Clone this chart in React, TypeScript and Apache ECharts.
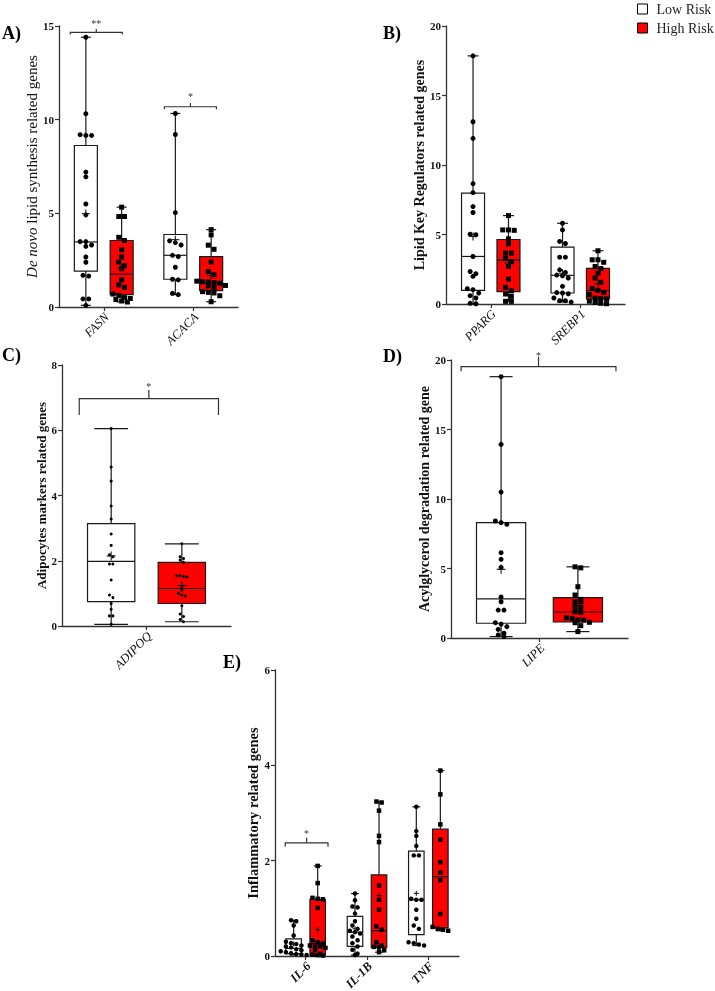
import React, { useEffect, useRef } from "react";
import * as echarts from "echarts";

const FONT = '"Liberation Serif", "Times New Roman", serif';

// ---------- Panel A : De novo lipid synthesis ----------
const catsA = ["FASN", "ACACA"];
const boxA_low = [
  [0.09, 1.92, 3.47, 8.62, 14.4],
  [0.66, 1.48, 2.76, 3.87, 10.33],
];
const boxA_high = [
  [0.27, 0.66, 1.75, 3.55, 5.33],
  [0.28, 0.87, 1.3, 2.69, 4.13],
];
const ptsA_low = [
  [14.4, 10.32, 9.16, 9.16, 9.2, 7.2, 6.95, 5.5, 4.92, 3.49, 3.49, 3.31, 3.24, 2.67, 2.39, 1.69, 1.65, 0.43, 0.43, 0.09],
  [10.33, 9.21, 5.04, 3.53, 3.44, 3.31, 2.76, 2.69, 2.12, 1.48, 1.45, 0.73, 0.66],
];
const ptsA_high = [
  [5.33, 4.83, 4.83, 3.72, 3.55, 3.05, 2.67, 2.39, 2.21, 2.05, 1.45, 1.18, 1.05, 0.69, 0.62, 0.5, 0.46, 0.4, 0.32, 0.27],
  [4.13, 3.85, 3.3, 3.08, 2.4, 1.89, 1.72, 1.38, 1.35, 1.33, 1.3, 1.27, 1.15, 1.12, 1.05, 0.82, 0.78, 0.75, 0.6, 0.28],
];
const sigA = ["**", "*"];

// ---------- Panel B : Lipid key regulators ----------
const catsB = ["PPARG", "SREBP1"];
const boxB_low = [
  [0.02, 0.98, 3.42, 7.97, 17.85],
  [0.14, 0.79, 2.06, 4.09, 5.81],
];
const boxB_high = [
  [0.19, 0.89, 3.16, 4.64, 6.36],
  [0.02, 0.36, 0.96, 2.56, 3.83],
];
const ptsB_low = [
  [17.85, 13.11, 11.91, 8.66, 8.01, 7.01, 6.58, 5.02, 4.98, 3.42, 2.34, 2.18, 1.99, 1.1, 1.03, 0.79, 0.6, 0.43, 0.05, 0.02],
  [5.81, 5.33, 4.5, 4.35, 3.37, 3.37, 2.46, 2.27, 2.08, 2.03, 1.87, 1.27, 0.82, 0.79, 0.74, 0.43, 0.24, 0.24, 0.14],
];
const ptsB_high = [
  [6.36, 5.33, 5.33, 5.3, 4.69, 4.33, 3.66, 3.66, 3.28, 3.04, 2.7, 1.79, 1.2, 0.95, 0.72, 0.55, 0.19, 0.19],
  [3.83, 3.18, 3.18, 3.0, 2.7, 2.55, 2.22, 1.87, 1.56, 1.12, 0.98, 0.84, 0.67, 0.43, 0.4, 0.36, 0.2, 0.12, 0.05, 0.02],
];

// ---------- Panel C : Adipocytes markers ----------
const catsC = ["ADIPOQ"];
const boxC_low = [[0.05, 0.75, 1.98, 3.14, 6.05]];
const boxC_high = [[0.13, 0.69, 1.15, 1.95, 2.52]];
const ptsC_low = [[6.05, 4.87, 4.44, 3.68, 3.28, 2.82, 2.47, 2.18, 2.12, 1.9, 1.9, 1.41, 0.95, 0.87, 0.69, 0.51, 0.31, 0.31, 0.05]];
const ptsC_high = [[2.52, 2.12, 2.07, 2.02, 1.95, 1.54, 1.54, 1.52, 1.5, 1.21, 1.1, 1.0, 0.95, 0.92, 0.62, 0.37, 0.29, 0.2, 0.13]];
const sigC = ["*"];

// ---------- Panel D : Acylglycerol degradation ----------
const catsD = ["LIPE"];
const boxD_low = [[0.1, 1.06, 2.81, 8.3, 18.8]];
const boxD_high = [[0.46, 1.15, 1.87, 2.9, 5.12]];
const ptsD_low = [[18.8, 13.93, 10.5, 8.42, 8.3, 8.18, 6.14, 5.66, 5.08, 2.95, 2.61, 2.01, 2.01, 1.1, 1.0, 0.82, 0.62, 0.34, 0.22, 0.1]];
const ptsD_high = [[5.12, 5.05, 3.69, 3.09, 2.78, 2.61, 2.6, 2.25, 2.2, 1.89, 1.85, 1.45, 1.41, 1.29, 1.29, 1.13, 1.1, 0.89, 0.46]];
const sigD = ["*"];

// ---------- Panel E : Inflammatory ----------
const catsE = ["IL-6", "IL-1B", "TNF"];
const boxE_low = [
  [0.02, 0.05, 0.16, 0.36, 0.75],
  [0.02, 0.2, 0.5, 0.83, 1.31],
  [0.22, 0.45, 1.18, 2.2, 3.13],
];
const boxE_high = [
  [0.01, 0.02, 0.26, 1.19, 1.89],
  [0.08, 0.18, 0.53, 1.7, 3.24],
  [0.53, 0.59, 1.66, 2.66, 3.89],
];
const ptsE_low = [
  [0.75, 0.73, 0.64, 0.43, 0.3, 0.27, 0.25, 0.22, 0.2, 0.18, 0.14, 0.12, 0.1, 0.08, 0.06, 0.04, 0.03, 0.02],
  [1.31, 1.17, 1.04, 1.02, 0.89, 0.73, 0.64, 0.57, 0.53, 0.5, 0.47, 0.41, 0.33, 0.27, 0.2, 0.13, 0.05, 0.02],
  [3.13, 2.62, 2.52, 2.31, 2.11, 2.11, 1.2, 1.18, 1.18, 0.97, 0.78, 0.64, 0.57, 0.29, 0.27, 0.24, 0.22],
];
const ptsE_high = [
  [1.89, 1.53, 1.22, 1.2, 1.19, 1.01, 0.33, 0.29, 0.26, 0.22, 0.2, 0.2, 0.17, 0.13, 0.05, 0.03, 0.02, 0.01],
  [3.24, 3.22, 3.05, 2.52, 2.39, 1.48, 1.18, 0.97, 0.62, 0.55, 0.29, 0.22, 0.19, 0.18, 0.12, 0.08],
  [3.89, 3.39, 2.76, 2.44, 1.97, 1.75, 1.59, 0.88, 0.61, 0.57, 0.55, 0.53],
];
const sigE = ["*"];

const legendNames = ["Low Risk", "High Risk"];

type Bracket = { cat: number; x1: number; x2: number; y: number; drop: number; top: number; star: number; label: string };
type Panel = {
  letter: string;
  letterPos: [number, number];
  grid: { left: number; top: number; width: number; height: number };
  cats: string[];
  lowBox: number[][];
  highBox: number[][];
  lowPts: number[][];
  highPts: number[][];
  yMax: number;
  yInt: number;
  offset: number;
  boxW: number;
  capW: number;
  ptSize: number;
  meanSize: number;
  highShape: "square" | "circle";
  name: string;
  nameGap: number;
  nameSize: number;
  nameBold: boolean;
  labelBold: boolean;
  brackets: Bracket[];
};

const panels: Panel[] = [
  {
    letter: "A)", letterPos: [2, 24],
    grid: { left: 59, top: 26, width: 179, height: 281 },
    cats: catsA, lowBox: boxA_low, highBox: boxA_high, lowPts: ptsA_low, highPts: ptsA_high,
    yMax: 15, yInt: 5,
    offset: 0.2, boxW: 0.257, capW: 0.112, ptSize: 5, meanSize: 8, highShape: "square",
    name: "{i|De novo} lipid synthesis related genes", nameGap: 16, nameSize: 15, nameBold: false, labelBold: false,
    brackets: [
      { cat: 0, x1: -0.374, x2: 0.207, y: 14.66, drop: 14.54, top: 14.84, star: 15.28, label: sigA[0] },
      { cat: 1, x1: -0.322, x2: 0.259, y: 10.69, drop: 10.56, top: 10.89, star: 11.37, label: sigA[1] },
    ],
  },
  {
    letter: "B)", letterPos: [383, 24],
    grid: { left: 446, top: 26, width: 179, height: 278 },
    cats: catsB, lowBox: boxB_low, highBox: boxB_high, lowPts: ptsB_low, highPts: ptsB_high,
    yMax: 20, yInt: 5,
    offset: 0.198, boxW: 0.257, capW: 0.123, ptSize: 5, meanSize: 8, highShape: "square",
    name: "Lipid Key Regulators related genes", nameGap: 16, nameSize: 14, nameBold: true, labelBold: false,
    brackets: [],
  },
  {
    letter: "C)", letterPos: [2, 346],
    grid: { left: 62, top: 365, width: 169, height: 261 },
    cats: catsC, lowBox: boxC_low, highBox: boxC_high, lowPts: ptsC_low, highPts: ptsC_high,
    yMax: 8, yInt: 2,
    offset: 0.209, boxW: 0.28, capW: 0.2, ptSize: 3, meanSize: 9, highShape: "circle",
    name: "Adipocytes markers related genes", nameGap: 9, nameSize: 13, nameBold: true, labelBold: false,
    brackets: [{ cat: 0, x1: -0.398, x2: 0.426, y: 6.97, drop: 6.47, top: 7.23, star: 7.42, label: sigC[0] }],
  },
  {
    letter: "D)", letterPos: [383, 347],
    grid: { left: 451, top: 360, width: 177, height: 278 },
    cats: catsD, lowBox: boxD_low, highBox: boxD_high, lowPts: ptsD_low, highPts: ptsD_high,
    yMax: 20, yInt: 5,
    offset: 0.217, boxW: 0.278, capW: 0.13, ptSize: 5, meanSize: 9, highShape: "square",
    name: "Acylglycerol degradation related gene", nameGap: 19, nameSize: 14, nameBold: true, labelBold: false,
    brackets: [{ cat: 0, x1: -0.443, x2: 0.432, y: 19.52, drop: 19.19, top: 20.24, star: 20.53, label: sigD[0] }],
  },
  {
    letter: "E)", letterPos: [223, 653],
    grid: { left: 275, top: 670, width: 184, height: 286 },
    cats: catsE, lowBox: boxE_low, highBox: boxE_high, lowPts: ptsE_low, highPts: ptsE_high,
    yMax: 6, yInt: 2,
    offset: 0.196, boxW: 0.253, capW: 0.13, ptSize: 4.5, meanSize: 5, highShape: "square",
    name: "Inflammatory related genes", nameGap: 12, nameSize: 14.5, nameBold: true, labelBold: true,
    brackets: [{ cat: 0, x1: -0.333, x2: 0.364, y: 2.374, drop: 2.29, top: 2.48, star: 2.625, label: sigE[0] }],
  },
];

const STROKE = "#1a1a1a";
const NP = panels.length;

function swarmX(cx: number, ys: number[], size: number): number[] {
  const order = ys.map((_, i) => i).sort((a, b) => ys[a] - ys[b]);
  const out: number[] = new Array(ys.length).fill(cx);
  let cluster: number[] = [];
  const flush = () => {
    const n = cluster.length;
    cluster.forEach((k, j) => {
      out[k] = cx + (j - (n - 1) / 2) * size * 1.15;
    });
    cluster = [];
  };
  for (const k of order) {
    if (cluster.length && ys[k] - ys[cluster[0]] > size * 0.9) flush();
    cluster.push(k);
  }
  flush();
  return out;
}

function boxSeries(p: Panel, pi: number, side: number) {
  const boxes = side < 0 ? p.lowBox : p.highBox;
  const pts = side < 0 ? p.lowPts : p.highPts;
  const fill = side < 0 ? "#ffffff" : "#ff0000";
  const shape = side < 0 ? "circle" : p.highShape;
  return {
    type: "custom",
    name: side < 0 ? legendNames[0] : legendNames[1],
    xAxisIndex: NP + pi,
    yAxisIndex: pi,
    clip: false,
    itemStyle: { color: fill },
    data: boxes.map((b, i) => [i, b[0], b[1], b[2], b[3], b[4]]),
    encode: { x: 0, y: [1, 2, 3, 4, 5] },
    renderItem: (params: any, api: any) => {
      const i = params.dataIndex;
      const cx = api.value(0) + side * p.offset;
      const mn = api.value(1), q1 = api.value(2), md = api.value(3), q3 = api.value(4), mx = api.value(5);
      const c = (x: number, y: number) => api.coord([x, y]);
      const lw = 1.2;
      const line = (a: number[], b: number[], w = lw) => ({
        type: "line",
        shape: { x1: a[0], y1: a[1], x2: b[0], y2: b[1] },
        style: { stroke: STROKE, lineWidth: w },
      });
      const children: any[] = [];
      children.push(line(c(cx, q3), c(cx, mx)));
      children.push(line(c(cx, q1), c(cx, mn)));
      children.push(line(c(cx - p.capW / 2, mx), c(cx + p.capW / 2, mx)));
      children.push(line(c(cx - p.capW / 2, mn), c(cx + p.capW / 2, mn)));
      const tl = c(cx - p.boxW / 2, q3);
      const br = c(cx + p.boxW / 2, q1);
      children.push({
        type: "rect",
        shape: { x: tl[0], y: tl[1], width: br[0] - tl[0], height: br[1] - tl[1] },
        style: { fill, stroke: STROKE, lineWidth: lw },
      });
      children.push(line(c(cx - p.boxW / 2, md), c(cx + p.boxW / 2, md)));
      const vals = pts[i];
      const center = c(cx, 0)[0];
      const ys = vals.map((v) => c(cx, v)[1]);
      const xs = swarmX(center, ys, p.ptSize);
      const s = p.ptSize;
      vals.forEach((_, k) => {
        if (shape === "square") {
          children.push({
            type: "rect",
            shape: { x: xs[k] - s / 2, y: ys[k] - s / 2, width: s, height: s },
            style: { fill: "#000" },
          });
        } else {
          children.push({
            type: "circle",
            shape: { cx: xs[k], cy: ys[k], r: s / 2 },
            style: { fill: "#000" },
          });
        }
      });
      const mean = vals.reduce((a, b) => a + b, 0) / vals.length;
      const m = c(cx, mean);
      const h = p.meanSize / 2;
      children.push(line([m[0] - h, m[1]], [m[0] + h, m[1]], 1.1));
      children.push(line([m[0], m[1] - h], [m[0], m[1] + h], 1.1));
      return { type: "group", children };
    },
  };
}

function bracketSeries(p: Panel, pi: number) {
  return {
    type: "custom",
    xAxisIndex: NP + pi,
    yAxisIndex: pi,
    clip: false,
    data: p.brackets.map((b) => [b.cat, b.y]),
    renderItem: (params: any, api: any) => {
      const b = p.brackets[params.dataIndex];
      const c = (x: number, y: number) => api.coord([x, y]);
      const x1 = b.cat + b.x1, x2 = b.cat + b.x2, xm = (x1 + x2) / 2;
      const poly = [c(x1, b.drop), c(x1, b.y), c(x2, b.y), c(x2, b.drop)];
      const mid = c(xm, b.y), midTop = c(xm, b.top), st = c(xm, b.star);
      return {
        type: "group",
        children: [
          { type: "polyline", shape: { points: poly }, style: { stroke: "#333", lineWidth: 1.2, fill: "none" } },
          { type: "line", shape: { x1: mid[0], y1: mid[1], x2: midTop[0], y2: midTop[1] }, style: { stroke: "#333", lineWidth: 1.2 } },
          {
            type: "text",
            style: { text: b.label, x: st[0], y: st[1] + 2.5, align: "center", verticalAlign: "middle", fill: "#333", font: `10px ${FONT}` },
          },
        ],
      };
    },
  };
}

// rotated (45°) italic category labels, placed at each category's position on the axis
function labelSeries(p: Panel, pi: number) {
  return {
    type: "custom",
    xAxisIndex: NP + pi,
    yAxisIndex: pi,
    clip: false,
    data: p.cats.map((_, i) => [i, 0]),
    renderItem: (params: any, api: any) => {
      const pt = api.coord([api.value(0), 0]);
      return {
        type: "text",
        x: pt[0] + 3,
        y: pt[1] + 8,
        rotation: Math.PI / 4,
        style: {
          text: p.cats[params.dataIndex],
          fill: "#111",
          font: `italic ${p.labelBold ? "bold " : ""}12.5px ${FONT}`,
          align: "right",
          verticalAlign: "middle",
        },
      };
    },
  };
}

export default function App() {
  const ref = useRef<HTMLDivElement>(null);
  useEffect(() => {
    if (!ref.current) return;
    const chart = echarts.init(ref.current, undefined, { renderer: "svg" });
    const grid = panels.map((p) => ({ ...p.grid }));
    const catAxes = panels.map((p, pi) => ({
      type: "category",
      gridIndex: pi,
      data: p.cats,
      boundaryGap: true,
      splitLine: { show: false },
      axisLine: { show: true, onZero: false, lineStyle: { color: "#333", width: 1.3 } },
      axisTick: { show: true, length: 4, alignWithLabel: true, lineStyle: { color: "#333", width: 1.2 } },
      axisLabel: { show: false },
    }));
    const valAxes = panels.map((p, pi) => ({
      type: "value",
      gridIndex: pi,
      min: -0.5,
      max: p.cats.length - 0.5,
      show: false,
    }));
    const yAxis = panels.map((p, pi) => ({
      type: "value",
      gridIndex: pi,
      min: 0,
      max: p.yMax,
      interval: p.yInt,
      splitLine: { show: false },
      axisLine: { show: true, onZero: false, lineStyle: { color: "#333", width: 1.3 } },
      axisTick: { show: true, length: 4, lineStyle: { color: "#333", width: 1.2 } },
      axisLabel: { margin: 5, fontFamily: FONT, fontWeight: "bold", fontSize: 11, color: "#111" },
      name: p.name,
      nameLocation: "middle",
      nameGap: p.nameGap,
      nameTextStyle: {
        fontFamily: FONT,
        fontSize: p.nameSize,
        fontWeight: p.nameBold ? "bold" : "normal",
        color: "#111",
        rich: { i: { fontFamily: FONT, fontSize: p.nameSize, fontStyle: "italic", color: "#111" } },
      },
    }));
    const series: any[] = [];
    panels.forEach((p, pi) => {
      series.push(boxSeries(p, pi, -1));
      series.push(boxSeries(p, pi, 1));
      if (p.brackets.length) series.push(bracketSeries(p, pi));
      series.push(labelSeries(p, pi));
    });
    const option = {
      animation: false,
      grid,
      xAxis: [...catAxes, ...valAxes],
      yAxis,
      legend: {
        show: true,
        orient: "vertical",
        left: 632,
        top: -3,
        itemWidth: 10,
        itemHeight: 10,
        itemGap: 5,
        selectedMode: false,
        icon: "rect",
        textStyle: { fontFamily: FONT, fontSize: 14, color: "#222", lineHeight: 12, padding: [0, 0, 0, 4] },
        data: [
          { name: legendNames[0], icon: "rect", itemStyle: { color: "#ffffff", borderColor: "#000", borderWidth: 1 } },
          { name: legendNames[1], icon: "rect", itemStyle: { color: "#ff0000", borderColor: "#000", borderWidth: 1 } },
        ],
      },
      graphic: panels.map((p) => ({
        type: "text",
        left: p.letterPos[0],
        top: p.letterPos[1],
        style: { text: p.letter, font: `bold 18px ${FONT}`, fill: "#000" },
      })),
      series,
    };
    chart.setOption(option as any);
    return () => chart.dispose();
  }, []);
  return <div ref={ref} style={{ position: "fixed", left: 0, top: 0, width: 715, height: 991 }} />;
}
